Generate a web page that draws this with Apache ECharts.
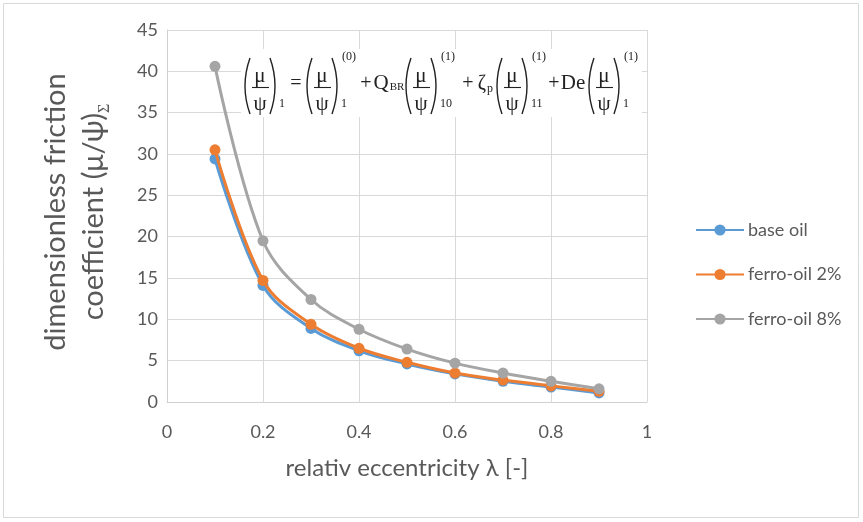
<!DOCTYPE html>
<html>
<head>
<meta charset="utf-8">
<script src="https://cdn.jsdelivr.net/npm/echarts@6/dist/echarts.min.js"></script>
<style>
  html, body { margin: 0; padding: 0; background: #fff; }
  #chart { width: 863px; height: 522px; }
</style>
</head>
<body>
<div id="chart"></div>
<script>
// eccentricity values on the x axis
const eccentricity = [0.1, 0.2, 0.3, 0.4, 0.5, 0.6, 0.7, 0.8, 0.9]
const baseOil = [29.4, 14.1, 8.9, 6.2, 4.6, 3.4, 2.5, 1.8, 1.1]
const ferroOil2 = [30.5, 14.7, 9.4, 6.5, 4.8, 3.5, 2.65, 1.95, 1.3]
const ferroOil8 = [40.6, 19.5, 12.4, 8.8, 6.4, 4.7, 3.5, 2.5, 1.6]
const seriesNames = ['base oil', 'ferro-oil 2%', 'ferro-oil 8%']
const seriesColors = ['#5b9bd5', '#ed7d31', '#a5a5a5']

const font = 'Lato, "Noto Sans", sans-serif'
const serif = '"Liberation Serif", "DejaVu Serif", serif'
const textColor = '#595959'
const eqColor = '#222222'

function pairOf(xs, ys) {
  return xs.map((x, i) => [x, ys[i]])
}

function txt(x, y, text, size, align) {
  return {
    type: 'text', x: x, y: y, z: 102,
    style: {
      text: text, font: size + 'px ' + serif, fill: eqColor,
      align: align || 'center', textAlign: align || 'center',
      verticalAlign: 'middle', textVerticalAlign: 'middle'
    }
  }
}

function paren(x, left) {
  // a tall bracket drawn as a curve
  const top = 58, bottom = 114, mid = 86
  return {
    type: 'bezierCurve', z: 102,
    shape: left
      ? { x1: x + 7, y1: top, x2: x + 7, y2: bottom, cpx1: x - 3, cpy1: mid }
      : { x1: x, y1: top, x2: x, y2: bottom, cpx1: x + 10, cpy1: mid },
    style: { stroke: eqColor, lineWidth: 1.4, fill: null }
  }
}

function term(px, sup, sub) {
  const els = [
    paren(px, true),
    txt(px + 17, 76, 'μ', 21),
    { type: 'line', z: 102, shape: { x1: px + 9, y1: 87.5, x2: px + 26, y2: 87.5 },
      style: { stroke: eqColor, lineWidth: 1.1 } },
    txt(px + 17, 104, 'ψ', 21),
    paren(px + 27, false),
    txt(px + 36, 104, sub, 12, 'left')
  ]
  if (sup) els.push(txt(px + 37, 57, sup, 12, 'left'))
  return els
}

const formula = [].concat(
  [{ type: 'rect', z: 101, shape: { x: 241, y: 49, width: 401, height: 68 },
     style: { fill: '#ffffff' } }],
  term(243, null, '1'),
  [txt(296, 84, '=', 20)],
  term(305, '(0)', '1'),
  [txt(366, 84, '+', 20), txt(381, 83, 'Q', 21), txt(397, 87, 'BR', 11)],
  term(404, '(1)', '10'),
  [txt(468, 84, '+', 20), txt(482, 84, 'ζ', 20), txt(490, 89, 'p', 12)],
  term(495, '(1)', '11'),
  [txt(554, 84, '+', 20), txt(573, 83, 'De', 21)],
  term(587, '(1)', '1')
)

const chart = echarts.init(document.getElementById('chart'))
chart.setOption({
  animation: false,
  backgroundColor: '#ffffff',
  textStyle: { fontFamily: font },
  color: seriesColors,
  grid: { left: 167, right: 216, top: 30, bottom: 120 },
  legend: {
    orient: 'vertical',
    left: 690,
    top: 216,
    itemWidth: 48,
    itemHeight: 14,
    itemGap: 26.5,
    textStyle: { fontSize: 18, color: textColor, fontFamily: font, padding: [0, 0, 0, -1] },
    data: seriesNames
  },
  xAxis: {
    type: 'value',
    min: 0,
    max: 1,
    interval: 0.2,
    name: 'relativ eccentricity λ [-]',
    nameLocation: 'middle',
    nameGap: 54,
    nameTextStyle: { fontSize: 24, color: textColor, fontFamily: font },
    axisLine: { lineStyle: { color: '#d0d0d0', width: 1 } },
    axisTick: { show: false },
    axisLabel: { fontSize: 18, color: textColor, margin: 21, fontFamily: font },
    splitLine: { show: true, lineStyle: { color: '#d9d9d9', width: 1 } }
  },
  yAxis: {
    type: 'value',
    min: 0,
    max: 45,
    interval: 5,
    axisLine: { show: true, lineStyle: { color: '#d0d0d0', width: 1 } },
    axisTick: { show: false },
    axisLabel: { fontSize: 18, color: textColor, margin: 9, fontFamily: font },
    splitLine: { show: true, lineStyle: { color: '#d9d9d9', width: 1 } }
  },
  graphic: [
    { type: 'rect', z: 100, shape: { x: 3.5, y: 3.5, width: 855, height: 514 },
      style: { fill: null, stroke: '#d9d9d9', lineWidth: 1 } },
    {
      type: 'text', x: 75, y: 212, rotation: Math.PI / 2, z: 100,
      style: {
        text: '{a|dimensionless friction}\n{a|coefficient (μ/ψ)}{s|Σ}',
        align: 'center', textAlign: 'center',
        verticalAlign: 'middle', textVerticalAlign: 'middle',
        fill: textColor,
        rich: {
          a: { fontSize: 29, lineHeight: 38, fontFamily: font, fill: textColor, color: textColor },
          s: { fontSize: 16, lineHeight: 20, verticalAlign: 'bottom', fontFamily: serif, fill: textColor, color: textColor }
        }
      }
    }
  ].concat(formula),
  series: [
    { name: seriesNames[0], data: pairOf(eccentricity, baseOil) },
    { name: seriesNames[1], data: pairOf(eccentricity, ferroOil2) },
    { name: seriesNames[2], data: pairOf(eccentricity, ferroOil8) }
  ].map((s, i) => ({
    name: s.name,
    type: 'line',
    smooth: 0.35,
    data: s.data,
    symbol: 'circle',
    symbolSize: 11,
    lineStyle: { width: 3, color: seriesColors[i] },
    itemStyle: { color: seriesColors[i] },
    z: 2 + i
  }))
})
</script>
</body>
</html>
